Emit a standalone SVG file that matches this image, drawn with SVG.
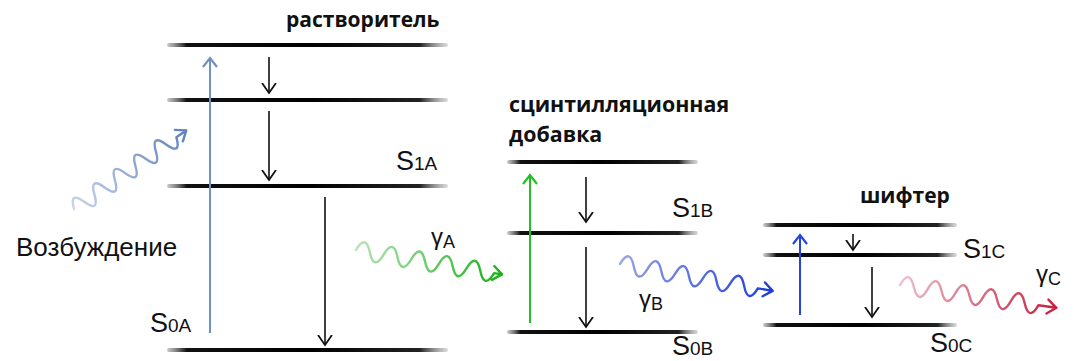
<svg xmlns="http://www.w3.org/2000/svg" width="1074" height="361" viewBox="0 0 1074 361">
  <style>
    .lvl { fill: url(#lvlGrad); }
    .lbl { font-family: "Liberation Sans", Arial, sans-serif; fill: #111; }
    .ttl { font-family: "Open Sans", "Liberation Sans", sans-serif; font-weight: bold; fill: #111; }
    .v { fill: none; stroke: #111; stroke-width: 1.6; }
    .wave { fill: none; stroke-width: 2.4; stroke-linecap: round; stroke-linejoin: round; }
  </style>
  <defs>
    <linearGradient id="lvlGrad" x1="0" y1="0" x2="1" y2="0">
      <stop offset="0" stop-color="#666" stop-opacity="0.35"/>
      <stop offset="0.07" stop-color="#111"/>
      <stop offset="0.5" stop-color="#000"/>
      <stop offset="0.9" stop-color="#222"/>
      <stop offset="1" stop-color="#888" stop-opacity="0.3"/>
    </linearGradient>
    <marker id="ahK" markerUnits="userSpaceOnUse" markerWidth="20" markerHeight="20" viewBox="-10 -10 20 20" refX="0" refY="0" orient="auto">
      <path d="M-10,-7 L0,0 L-10,7" fill="none" stroke="#111" stroke-width="1.8"/>
    </marker>
    <marker id="ahB1" markerUnits="userSpaceOnUse" markerWidth="20" markerHeight="20" viewBox="-10 -10 20 20" refX="0" refY="0" orient="auto">
      <path d="M-9,-7 L0,0 L-9,7" fill="none" stroke="#7090c8" stroke-width="2.2"/>
    </marker>
    <marker id="ahG" markerUnits="userSpaceOnUse" markerWidth="20" markerHeight="20" viewBox="-10 -10 20 20" refX="0" refY="0" orient="auto">
      <path d="M-9,-7 L0,0 L-9,7" fill="none" stroke="#22c022" stroke-width="2.2"/>
    </marker>
    <marker id="ahB2" markerUnits="userSpaceOnUse" markerWidth="20" markerHeight="20" viewBox="-10 -10 20 20" refX="0" refY="0" orient="auto">
      <path d="M-9,-7 L0,0 L-9,7" fill="none" stroke="#2244e0" stroke-width="2.2"/>
    </marker>
    <linearGradient id="gExc" gradientUnits="userSpaceOnUse" x1="0" y1="0" x2="138" y2="0">
      <stop offset="0" stop-color="#c8d4ea"/>
      <stop offset="1" stop-color="#5f80bf"/>
    </linearGradient>
    <linearGradient id="gGreen" gradientUnits="userSpaceOnUse" x1="0" y1="0" x2="150" y2="0">
      <stop offset="0" stop-color="#b6e4b6"/>
      <stop offset="1" stop-color="#18b018"/>
    </linearGradient>
    <linearGradient id="gBlue" gradientUnits="userSpaceOnUse" x1="0" y1="0" x2="157" y2="0">
      <stop offset="0" stop-color="#98a4e6"/>
      <stop offset="1" stop-color="#1a3ad8"/>
    </linearGradient>
    <linearGradient id="gRed" gradientUnits="userSpaceOnUse" x1="0" y1="0" x2="160" y2="0">
      <stop offset="0" stop-color="#ecc0cc"/>
      <stop offset="1" stop-color="#c41c3c"/>
    </linearGradient>
  </defs>

  <g id="solvent">
    <rect class="lvl" x="167" y="43" width="281" height="4" rx="2"/>
    <rect class="lvl" x="167" y="98" width="281" height="4" rx="2"/>
    <rect class="lvl" x="167" y="184" width="281" height="4" rx="2"/>
    <rect class="lvl" x="167" y="348" width="281" height="4" rx="2"/>
    <text class="ttl" x="286" y="27" font-size="21">растворитель</text>
    <text class="lbl" x="396" y="170"><tspan font-size="27">S</tspan><tspan font-size="19">1A</tspan></text>
    <text class="lbl" x="150" y="332"><tspan font-size="27">S</tspan><tspan font-size="19">0A</tspan></text>
  </g>

  <g id="additive">
    <rect class="lvl" x="507" y="160" width="191" height="4" rx="2"/>
    <rect class="lvl" x="507" y="231" width="191" height="4" rx="2"/>
    <rect class="lvl" x="507" y="330" width="191" height="4" rx="2"/>
    <text class="ttl" x="509" y="112" font-size="21.4">сцинтилляционная</text>
    <text class="ttl" x="509" y="142" font-size="21.4">добавка</text>
    <text class="lbl" x="672" y="217"><tspan font-size="27">S</tspan><tspan font-size="19">1B</tspan></text>
    <text class="lbl" x="672" y="355"><tspan font-size="27">S</tspan><tspan font-size="19">0B</tspan></text>
  </g>

  <g id="shifter">
    <rect class="lvl" x="763" y="223" width="194" height="4" rx="2"/>
    <rect class="lvl" x="763" y="253" width="194" height="4" rx="2"/>
    <rect class="lvl" x="763" y="323" width="194" height="4" rx="2"/>
    <text class="ttl" x="860" y="203" font-size="21">шифтер</text>
    <text class="lbl" x="963" y="258"><tspan font-size="27">S</tspan><tspan font-size="19">1C</tspan></text>
    <text class="lbl" x="930" y="352"><tspan font-size="27">S</tspan><tspan font-size="19">0C</tspan></text>
  </g>

  <g id="excitation">
    <text class="lbl" x="16" y="256" font-size="26">Возбуждение</text>
  </g>

  <g id="connectors">
    <line x1="210" y1="333" x2="210" y2="58" stroke="#7090c8" stroke-width="2" marker-end="url(#ahB1)"/>
    <line class="v" x1="269" y1="57" x2="269" y2="93" marker-end="url(#ahK)"/>
    <line class="v" x1="269" y1="111" x2="269" y2="180" marker-end="url(#ahK)"/>
    <line class="v" x1="325" y1="197" x2="325" y2="345" marker-end="url(#ahK)"/>

    <line x1="530" y1="323" x2="530" y2="175" stroke="#22c022" stroke-width="2" marker-end="url(#ahG)"/>
    <line class="v" x1="586" y1="177" x2="586" y2="222" marker-end="url(#ahK)"/>
    <line class="v" x1="586" y1="247" x2="586" y2="327" marker-end="url(#ahK)"/>

    <line x1="800" y1="315" x2="800" y2="235" stroke="#2244e0" stroke-width="2" marker-end="url(#ahB2)"/>
    <line class="v" x1="853" y1="234" x2="853" y2="250" marker-end="url(#ahK)"/>
    <line class="v" x1="872" y1="267" x2="872" y2="317" marker-end="url(#ahK)"/>

    <g transform="translate(74,209) rotate(-35)">
      <path class="wave" stroke="url(#gExc)" d="M0,0 q6.25,-18 12.5,0 t12.5,0 t12.5,0 t12.5,0 t12.5,0 t12.5,0 t12.5,0 t12.5,0 t12.5,0 t12.5,0 L137,0 M128,-7 L137,0 L128,7"/>
    </g>
    <g transform="translate(356,250) rotate(9.5)">
      <path class="wave" stroke="url(#gGreen)" d="M0,0 q7,-18 14,0 t14,0 t14,0 t14,0 t14,0 t14,0 t14,0 t14,0 t14,0 t14,0 L148,0 M139,-7 L148,0 L139,7"/>
    </g>
    <g transform="translate(620,264) rotate(10)">
      <path class="wave" stroke="url(#gBlue)" d="M0,0 q7,-18 14,0 t14,0 t14,0 t14,0 t14,0 t14,0 t14,0 t14,0 t14,0 t14,0 L155,0 M146,-7 L155,0 L146,7"/>
    </g>
    <g transform="translate(900,285) rotate(8.3)">
      <path class="wave" stroke="url(#gRed)" d="M0,0 q7,-18 14,0 t14,0 t14,0 t14,0 t14,0 t14,0 t14,0 t14,0 t14,0 t14,0 L158,0 M149,-7 L158,0 L149,7"/>
    </g>

    <text class="lbl" x="431" y="245"><tspan font-size="24">γ</tspan><tspan font-size="18" dy="3">A</tspan></text>
    <text class="lbl" x="639" y="307"><tspan font-size="24">γ</tspan><tspan font-size="18" dy="3">B</tspan></text>
    <text class="lbl" x="1036" y="282"><tspan font-size="24">γ</tspan><tspan font-size="18" dy="3">C</tspan></text>
  </g>
</svg>
